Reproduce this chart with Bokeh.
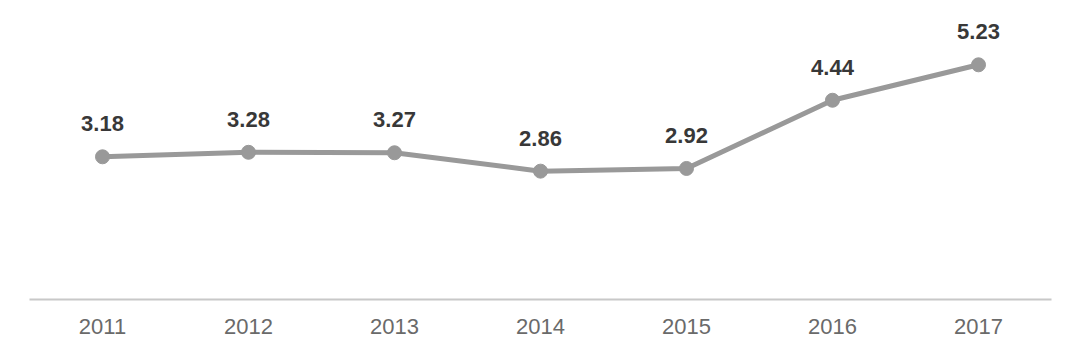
from bokeh.plotting import figure
from bokeh.models import ColumnDataSource, LabelSet
from bokeh.core.properties import value
from bokeh.embed import file_html
from bokeh.resources import INLINE

years = ["2011", "2012", "2013", "2014", "2015", "2016", "2017"]
values = [3.18, 3.28, 3.27, 2.86, 2.92, 4.44, 5.23]
labels = [f"{v:.2f}" for v in values]

src = ColumnDataSource(dict(x=years, y=values, t=labels))

p = figure(x_range=years, y_range=(0, 6.44), width=1080, height=353,
           output_backend="svg", toolbar_location=None,
           min_border_left=29, min_border_right=29, min_border_top=10, min_border_bottom=54)
p.outline_line_color = None
p.background_fill_color = "white"
p.border_fill_color = "white"
p.grid.visible = False
p.yaxis.visible = False

p.line("x", "y", source=src, line_color="#999999", line_width=5)
p.scatter("x", "y", source=src, size=14, fill_color="#999999", line_color="#999999")

lab = LabelSet(x="x", y="y", text="t", source=src, y_offset=33,
               text_align="center", text_baseline="middle",
               text_font=value("Liberation Sans"), text_font_size="22px",
               text_font_style="bold", text_color="#383838")
p.add_layout(lab)

ax = p.xaxis[0]
ax.axis_line_color = "#c8c8c8"
ax.axis_line_width = 2
ax.major_tick_line_color = None
ax.minor_tick_line_color = None
ax.major_label_standoff = 13
ax.major_label_text_font = "Liberation Sans"
ax.major_label_text_font_size = "22px"
ax.major_label_text_color = "#6a6a6a"

open("out.html", "w").write(file_html(p, INLINE))
